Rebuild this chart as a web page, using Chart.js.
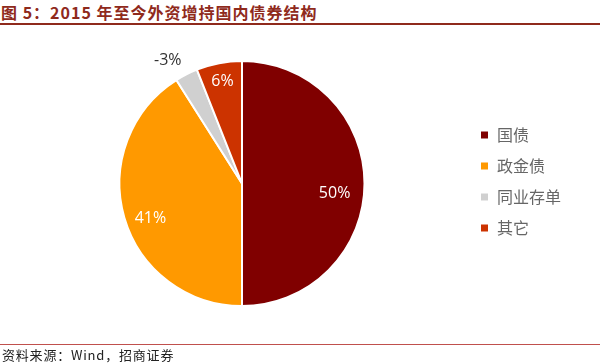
<!DOCTYPE html>
<html>
<head>
<meta charset="utf-8">
<script src="https://cdn.jsdelivr.net/npm/chart.js@4"></script>
<style>
  body { margin: 0; background: #fff; width: 600px; height: 363px; overflow: hidden; position: relative; font-family: "Noto Sans CJK SC", sans-serif; }
  #title { position: absolute; left: 1px; top: 0px; font-size: 16px; letter-spacing: 1px; font-weight: bold; color: #8f2a1c; white-space: nowrap; }
  #topline { position: absolute; left: 0; top: 23px; width: 600px; height: 2px; background: #8f2a1c; }
  #botline { position: absolute; left: 0; top: 344px; width: 600px; height: 1px; background: #c0504d; }
  #source { position: absolute; left: 2px; top: 345px; font-size: 13px; letter-spacing: 0.8px; color: #222; white-space: nowrap; }
  #wrap { position: absolute; left: 0; top: 0; width: 600px; height: 363px; }
</style>
</head>
<body>
<div id="title">图 5：2015 年至今外资增持国内债券结构</div>
<div id="topline"></div>
<div id="wrap"><canvas id="myChart" width="600" height="363"></canvas></div>
<div id="botline"></div>
<div id="source">资料来源：Wind，招商证券</div>
<script>
var categories = ["国债", "政金债", "同业存单", "其它"];
var shares = [50, 41, 3, 6];
var shareLabels = ["50%", "41%", "-3%", "6%"];
var colors = ["#800000", "#ff9900", "#d0d0d0", "#cc3300"];

// label placement: distance (fraction of radius), angle nudge (deg), colour
var labelRadius = [0.76, 0.80, 1.17, 0.85];
var labelNudge = [6, -4.6, -4.2, 0];
var labelColor = ["#fff", "#fff", "#333", "#fff"];

var sliceLabels = {
    id: 'sliceLabels',
    afterLayout: function(chart) {
        // push the legend to the right, away from the pie
        var shift = 480 - 15 - chart.legend.left;
        chart.legend.left += shift;
        chart.legend.right += shift;
        chart.legend.top -= 2;
        chart.legend.bottom -= 2;
    },
    afterDatasetsDraw: function(chart) {
        var ctx = chart.ctx;
        var meta = chart.getDatasetMeta(0);
        ctx.save();
        ctx.font = '16px "Open Sans", sans-serif';
        ctx.textAlign = 'center';
        ctx.textBaseline = 'middle';
        meta.data.forEach(function(arc, i) {
            var p = arc.getProps(['x', 'y', 'startAngle', 'endAngle', 'outerRadius'], true);
            var mid = (p.startAngle + p.endAngle) / 2 + labelNudge[i] * Math.PI / 180;
            var r = p.outerRadius * labelRadius[i];
            ctx.fillStyle = labelColor[i];
            ctx.fillText(shareLabels[i], p.x + Math.cos(mid) * r, p.y + Math.sin(mid) * r);
        });
        ctx.restore();
    }
};

var ctx = document.getElementById('myChart').getContext('2d');
var myChart = new Chart(ctx, {
    type: 'pie',
    data: {
        labels: categories,
        datasets: [{
            data: shares,
            backgroundColor: colors,
            borderColor: '#fff',
            borderWidth: 2
        }]
    },
    options: {
        responsive: false,
        animation: false,
        layout: { padding: { top: 60, bottom: 56, left: 118, right: 128 } },
        plugins: {
            tooltip: { enabled: false },
            legend: {
                position: 'right',
                labels: {
                    boxWidth: 9,
                    boxHeight: 9,
                    padding: 15,
                    color: '#666',
                    font: { size: 16, family: '"Noto Sans CJK SC", sans-serif' }
                }
            }
        }
    },
    plugins: [sliceLabels]
});
</script>
</body>
</html>
